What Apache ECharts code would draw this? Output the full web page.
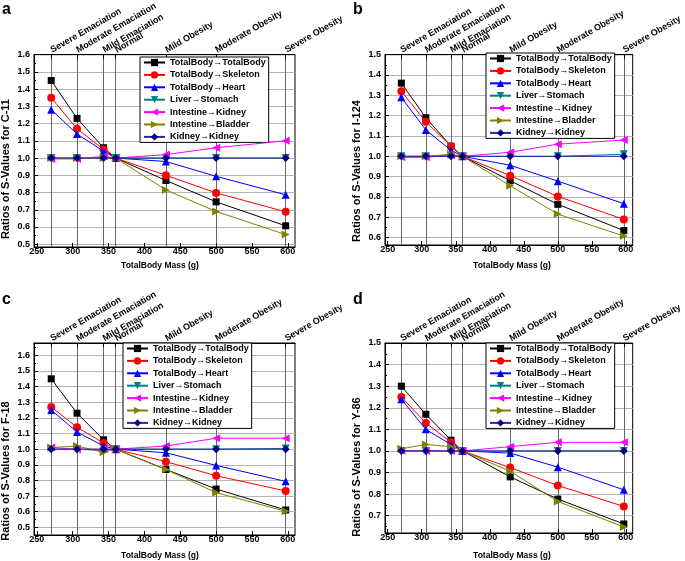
<!DOCTYPE html>
<html><head><meta charset="utf-8">
<script src="https://cdn.jsdelivr.net/npm/echarts@6/dist/echarts.min.js"></script>
<style>html,body{margin:0;padding:0;background:#fff}#c{width:685px;height:561px}</style>
</head><body><div id="c"></div>
<script>
// ---------- data ----------
const masses = [270, 306, 343, 360, 430, 500, 597];
const stateLabels = ['Severe Emaciation', 'Moderate Emaciation', 'Mild Emaciation', 'Normal', 'Mild Obesity', 'Moderate Obesity', 'Severe Obesity'];
const seriesNames = ['TotalBody→TotalBody', 'TotalBody→Skeleton', 'TotalBody→Heart', 'Liver→Stomach', 'Intestine→Kidney', 'Intestine→Bladder', 'Kidney→Kidney'];
const massTicks = [250, 300, 350, 400, 450, 500, 550, 600];
const panelLetters = ['a', 'b', 'c', 'd'];
const yTitles = ['Ratios of S-Values for C-11', 'Ratios of S-Values for I-124', 'Ratios of S-Values for F-18', 'Ratios of S-Values for Y-86'];
const xTitle = 'TotalBody Mass (g)';

const yTicksA = [0.5, 0.6, 0.7, 0.8, 0.9, 1.0, 1.1, 1.2, 1.3, 1.4, 1.5, 1.6];
const yTicksB = [0.6, 0.7, 0.8, 0.9, 1.0, 1.1, 1.2, 1.3, 1.4, 1.5];
const yTicksC = [0.5, 0.6, 0.7, 0.8, 0.9, 1.0, 1.1, 1.2, 1.3, 1.4, 1.5, 1.6];
const yTicksD = [0.7, 0.8, 0.9, 1.0, 1.1, 1.2, 1.3, 1.4, 1.5];

// C-11
const C11_TB_TB   = [1.45, 1.23, 1.06, 1.00, 0.87, 0.746, 0.607];
const C11_TB_SK   = [1.35, 1.17, 1.05, 1.00, 0.90, 0.798, 0.688];
const C11_TB_HT   = [1.28, 1.14, 1.04, 1.00, 0.98, 0.894, 0.787];
const C11_LV_ST   = [1.00, 1.00, 1.00, 1.00, 1.00, 1.00, 1.00];
const C11_IN_KD   = [0.995, 0.995, 1.01, 1.00, 1.02, 1.06, 1.10];
const C11_IN_BL   = [1.00, 1.00, 1.00, 1.00, 0.815, 0.69, 0.556];
const C11_KD_KD   = [1.00, 1.00, 1.00, 1.00, 1.00, 1.00, 1.00];
// I-124
const I124_TB_TB  = [1.36, 1.19, 1.05, 1.00, 0.88, 0.764, 0.635];
const I124_TB_SK  = [1.32, 1.17, 1.05, 1.00, 0.905, 0.803, 0.69];
const I124_TB_HT  = [1.29, 1.13, 1.03, 1.00, 0.956, 0.878, 0.767];
const I124_LV_ST  = [1.00, 1.00, 1.005, 1.00, 1.00, 1.00, 1.01];
const I124_IN_KD  = [0.995, 0.995, 1.005, 1.00, 1.02, 1.06, 1.08];
const I124_IN_BL  = [1.00, 1.00, 1.01, 1.00, 0.855, 0.716, 0.608];
const I124_KD_KD  = [1.00, 1.00, 1.00, 1.00, 1.00, 1.00, 1.00];
// F-18
const F18_TB_TB   = [1.45, 1.23, 1.06, 1.00, 0.87, 0.745, 0.611];
const F18_TB_SK   = [1.27, 1.14, 1.04, 1.00, 0.92, 0.83, 0.733];
const F18_TB_HT   = [1.25, 1.11, 1.02, 1.00, 0.977, 0.896, 0.794];
const F18_LV_ST   = [1.00, 1.00, 0.99, 1.00, 1.00, 1.00, 1.005];
const F18_IN_KD   = [1.01, 1.00, 1.00, 1.00, 1.02, 1.07, 1.07];
const F18_IN_BL   = [1.01, 1.02, 0.98, 1.00, 0.87, 0.722, 0.603];
const F18_KD_KD   = [1.00, 1.00, 1.00, 1.00, 1.00, 1.00, 1.00];
// Y-86
const Y86_TB_TB   = [1.30, 1.17, 1.05, 1.00, 0.88, 0.777, 0.662];
const Y86_TB_SK   = [1.25, 1.13, 1.04, 1.00, 0.923, 0.84, 0.743];
const Y86_TB_HT   = [1.24, 1.10, 1.03, 1.00, 0.99, 0.925, 0.82];
const Y86_LV_ST   = [1.00, 1.00, 1.00, 1.00, 1.00, 1.00, 1.00];
const Y86_IN_KD   = [1.00, 1.00, 1.00, 1.00, 1.02, 1.04, 1.04];
const Y86_IN_BL   = [1.01, 1.03, 1.02, 1.00, 0.906, 0.766, 0.648];
const Y86_KD_KD   = [1.00, 1.00, 1.00, 1.00, 1.00, 1.00, 1.00];

const panelData = [
  [C11_TB_TB, C11_TB_SK, C11_TB_HT, C11_LV_ST, C11_IN_KD, C11_IN_BL, C11_KD_KD],
  [I124_TB_TB, I124_TB_SK, I124_TB_HT, I124_LV_ST, I124_IN_KD, I124_IN_BL, I124_KD_KD],
  [F18_TB_TB, F18_TB_SK, F18_TB_HT, F18_LV_ST, F18_IN_KD, F18_IN_BL, F18_KD_KD],
  [Y86_TB_TB, Y86_TB_SK, Y86_TB_HT, Y86_LV_ST, Y86_IN_KD, Y86_IN_BL, Y86_KD_KD]
];
const panelYTicks = [yTicksA, yTicksB, yTicksC, yTicksD];

// ---------- layout & style ----------
const FONT = 'Liberation Sans, Arial, Helvetica, sans-serif';
const grids = [
  { left: 34, top: 53, width: 261, height: 194 },
  { left: 385, top: 53, width: 261, height: 192 },
  { left: 34, top: 343, width: 261, height: 192 },
  { left: 385, top: 343, width: 261, height: 190 }
];
const yRanges = [[0.484, 1.6], [0.564, 1.5], [0.451, 1.679], [0.62, 1.5]];
const xRange = [246, 610];
const legendPos = [
  { left: 140, top: 57 }, { left: 486, top: 53 }, { left: 123, top: 343 }, { left: 486, top: 343 }
];
const letterPos = [[2, 17], [353, 16.5], [2, 307], [353, 306.5]];
const yTitlePos = [[6, 169], [357, 171], [6, 471], [357, 467]];
const xTitlePos = [[160, 266], [512, 266], [160, 556], [512, 556]];

const styles = [
  { color: '#000000', line: '#000000', symbol: 'rect', rot: 0, size: 7 },
  { color: '#ff0000', line: '#ff0000', symbol: 'circle', rot: 0, size: 8 },
  { color: '#0000ff', line: '#0000ff', symbol: 'triangle', rot: 0, size: 8 },
  { color: '#008080', line: '#008080', symbol: 'triangle', rot: 180, size: 8 },
  { color: '#ff00ff', line: '#ff00ff', symbol: 'triangle', rot: 90, size: 8 },
  { color: '#808000', line: '#808000', symbol: 'triangle', rot: -90, size: 8 },
  { color: '#000080', line: '#2828a0', symbol: 'diamond', rot: 0, size: 8 }
];

function minorTicks(range) {
  const out = [];
  for (let k = 0; k < 40; k++) {
    const v = +(0.05 + k * 0.1).toFixed(2);
    if (v > range[0] && v < range[1]) out.push(v);
  }
  return out;
}

const xAxes = [], yAxes = [], series = [], legends = [], graphics = [];
grids.forEach((g, i) => {
  xAxes.push({
    gridIndex: i, type: 'value', position: 'bottom', min: xRange[0], max: xRange[1],
    axisLine: { show: true, lineStyle: { color: '#000', width: 1 } },
    axisTick: { show: true, inside: true, length: 4, customValues: massTicks, lineStyle: { color: '#000' } },
    axisLabel: { customValues: massTicks, fontSize: 9, fontWeight: 'bold', color: '#000', margin: 0, fontFamily: FONT },
    splitLine: { show: false }
  });
  xAxes.push({
    gridIndex: i, type: 'value', position: 'top', min: xRange[0], max: xRange[1],
    axisLine: { show: true, lineStyle: { color: '#000', width: 1 } },
    axisTick: { show: true, inside: true, length: 4, customValues: masses, lineStyle: { color: '#000' } },
    axisLabel: {
      customValues: masses, rotate: -30, margin: 4, fontSize: 9, fontWeight: 'bold', color: '#000', fontFamily: FONT,
      formatter: function (v) { return stateLabels[masses.indexOf(Math.round(v))]; }
    },
    splitLine: { show: true, lineStyle: { color: '#666', width: 1 } }
  });
  const yt = panelYTicks[i];
  yAxes.push({
    gridIndex: i, type: 'value', position: 'left', min: yRanges[i][0], max: yRanges[i][1],
    axisLine: { show: true, lineStyle: { color: '#000', width: 1 } },
    axisTick: { show: true, inside: true, length: 4, customValues: yt, lineStyle: { color: '#000' } },
    axisLabel: { customValues: yt, fontSize: 9, fontWeight: 'bold', color: '#000', margin: 4, fontFamily: FONT,
      formatter: function (v) { return v.toFixed(1); } },
    splitLine: { show: true, lineStyle: { color: '#b4b4b4', width: 1 } }
  });
  yAxes.push({
    gridIndex: i, type: 'value', position: 'left', min: yRanges[i][0], max: yRanges[i][1],
    axisLine: { show: false },
    axisTick: { show: true, inside: true, length: 2, customValues: minorTicks(yRanges[i]), lineStyle: { color: '#000' } },
    axisLabel: { show: false },
    splitLine: { show: false }
  });
  panelData[i].forEach((vals, s) => {
    const st = styles[s];
    series.push({
      name: seriesNames[s], type: 'line', xAxisIndex: 2 * i, yAxisIndex: 2 * i,
      data: vals.map((v, k) => [masses[k], v]),
      symbol: st.symbol, symbolRotate: st.rot, symbolSize: st.size,
      itemStyle: { color: st.color },
      lineStyle: { color: st.line, width: 1 },
      z: 3 + s, animation: false, silent: true
    });
  });
  legends.push({
    orient: 'vertical', left: legendPos[i].left, top: legendPos[i].top,
    data: seriesNames, itemWidth: 21, itemHeight: 9, itemGap: 3.4,
    padding: [1, 3, 1, 3], backgroundColor: '#fff', borderColor: '#000', borderWidth: 1, borderRadius: 0,
    textStyle: { fontSize: 9, fontWeight: 'bold', color: '#000', fontFamily: FONT },
    selectedMode: false
  });
  graphics.push({
    type: 'text', left: letterPos[i][0], top: letterPos[i][1] - 15,
    style: { text: panelLetters[i], font: 'bold 16px ' + FONT, fill: '#000' }
  });
  graphics.push({
    type: 'text', x: yTitlePos[i][0], y: yTitlePos[i][1], rotation: Math.PI / 2,
    style: { text: yTitles[i], font: 'bold 11px ' + FONT, fill: '#000', textAlign: 'center', textVerticalAlign: 'middle' }
  });
  graphics.push({
    type: 'text', x: xTitlePos[i][0], y: xTitlePos[i][1],
    style: { text: xTitle, font: 'bold 8.5px ' + FONT, fill: '#000', textAlign: 'center', textVerticalAlign: 'middle' }
  });
});

const chart = echarts.init(document.getElementById('c'), null, { renderer: 'canvas' });
chart.setOption({
  animation: false,
  backgroundColor: '#fff',
  grid: grids.map(g => Object.assign({ show: true, borderColor: '#000', borderWidth: 1, backgroundColor: 'transparent', containLabel: false }, g)),
  xAxis: xAxes, yAxis: yAxes, series: series, legend: legends, graphic: graphics,
  tooltip: { show: false }
});
</script></body></html>
